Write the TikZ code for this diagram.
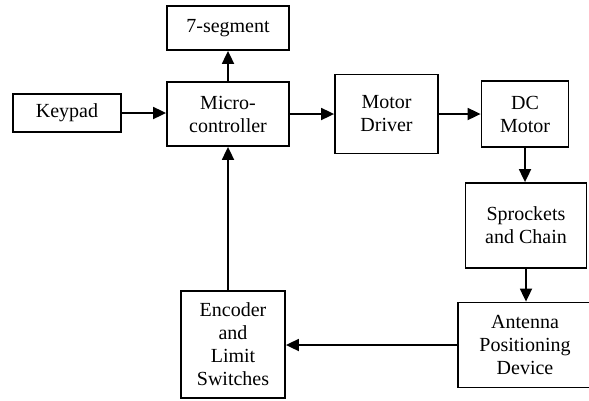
\documentclass[tikz,border=0pt]{standalone}
\usepackage{fontspec}
\setmainfont{Liberation Serif}
\usetikzlibrary{arrows.meta}

\tikzset{
  blk/.style={draw, line width=1.8pt, align=center, inner sep=0pt,
    font=\fontsize{20}{23}\selectfont},
  flow/.style={line width=1.8pt, -{Triangle[length=13pt,width=12pt]}}
}

\begin{document}
\begin{tikzpicture}[x=1pt, y=-1pt]
  \useasboundingbox (0,0) rectangle (589,400);

  % blocks
  \node[blk, minimum width=122pt, minimum height=44pt] (seg) at (228,28) {7-segment};
  \node[blk, minimum width=108pt, minimum height=38pt] (key) at (67,113) {Keypad};
  \node[blk, minimum width=122pt, minimum height=64pt] (mcu) at (228,114) {Micro-\\controller};
  \node[blk, minimum width=103pt, minimum height=79pt] (drv) at (386.5,114) {Motor\\Driver};
  \node[blk, minimum width=87pt, minimum height=66pt] (dcm) at (525,114) {DC\\Motor};
  \node[blk, minimum width=121pt, minimum height=85pt] (spr) at (526,225.5) {Sprockets\\and Chain};
  \node[blk, minimum width=134pt, minimum height=85pt] (ant) at (525,345) {Antenna\\Positioning\\Device};
  \node[blk, minimum width=104pt, minimum height=107pt] (enc) at (233,344.5) {Encoder\\and\\Limit\\Switches};

  % signal flow
  \draw[flow] (key.east) -- (key.east -| mcu.west);
  \draw[flow] (mcu.north) -- (seg.south);
  \draw[flow] (mcu.east) -- (mcu.east -| drv.west);
  \draw[flow] (drv.east) -- (drv.east -| dcm.west);
  \draw[flow] (dcm.south) -- (dcm.south |- spr.north);
  \draw[flow] (spr.south) -- (spr.south |- ant.north);
  \draw[flow] (ant.west) -- (ant.west -| enc.east);
  \draw[flow] (mcu.south |- enc.north) -- (mcu.south);
\end{tikzpicture}
\end{document}
